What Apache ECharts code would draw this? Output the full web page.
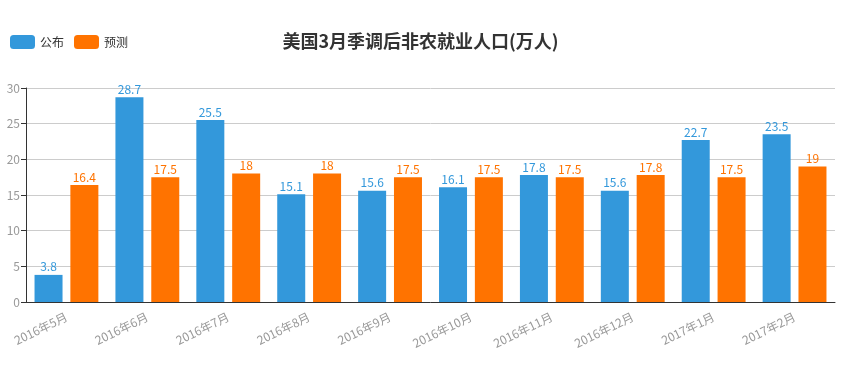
<!DOCTYPE html>
<html><head><meta charset="utf-8">
<script src="https://cdn.jsdelivr.net/npm/echarts@6/dist/echarts.min.js"></script>
<style>html,body{margin:0;padding:0;background:#fff}#c{width:841px;height:365px}</style>
</head><body><div id="c"></div>
<script>
const categories = ['2016年5月','2016年6月','2016年7月','2016年8月','2016年9月','2016年10月','2016年11月','2016年12月','2017年1月','2017年2月'];
const published = [3.8, 28.7, 25.5, 15.1, 15.6, 16.1, 17.8, 15.6, 22.7, 23.5];
const forecast = [16.4, 17.5, 18, 18, 17.5, 17.5, 17.5, 17.8, 17.5, 19];
const yTicks = {min: 0, max: 30, interval: 5};
const FONT = '"Noto Sans CJK SC", "Noto Sans", sans-serif';
const chart = echarts.init(document.getElementById('c'));
chart.setOption({
  animation: false,
  textStyle: {fontFamily: FONT},
  title: {text: '美国3月季调后非农就业人口(万人)', left: 'center', top: 27,
    textStyle: {fontSize: 18, fontWeight: 'bold', color: '#333', fontFamily: FONT}},
  legend: {left: 5, top: 30, itemWidth: 25, itemHeight: 14, itemGap: 10,
    textStyle: {fontSize: 12, color: '#333', fontFamily: FONT},
    data: ['公布','预测']},
  grid: {left: 26, right: 6, top: 88, bottom: 63, containLabel: false},
  xAxis: {type: 'category', data: categories,
    axisLine: {lineStyle: {color: '#333'}},
    axisTick: {lineStyle: {color: '#333'}},
    axisLabel: {rotate: 26, color: '#999', fontSize: 12, interval: 0, margin: 14}},
  yAxis: {type: 'value', min: yTicks.min, max: yTicks.max, interval: yTicks.interval,
    axisLine: {show: true, lineStyle: {color: '#333'}},
    axisTick: {show: true, lineStyle: {color: '#333'}},
    axisLabel: {color: '#999', fontSize: 12, margin: 6},
    splitLine: {lineStyle: {color: '#ccc'}}},
  series: [
    {name: '公布', type: 'bar', data: published, barWidth: 28, barGap: '28%',
      itemStyle: {color: '#3398DB'},
      label: {show: true, position: 'top', color: '#3398DB', fontSize: 12, distance: 2}},
    {name: '预测', type: 'bar', data: forecast, barWidth: 28,
      itemStyle: {color: '#FF7300'},
      label: {show: true, position: 'top', color: '#FF7300', fontSize: 12, distance: 2}}
  ]
});
</script></body></html>
